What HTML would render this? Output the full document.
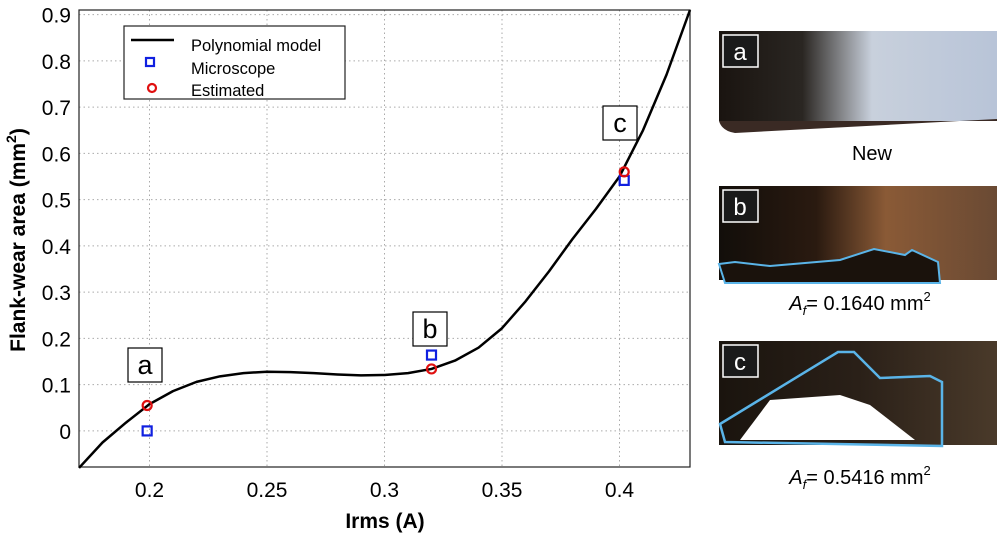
<!DOCTYPE html>
<html><head><meta charset="utf-8"><style>
body{margin:0;background:#fff;width:1000px;height:538px;overflow:hidden;font-family:"Liberation Sans",sans-serif}
</style></head><body>
<svg width="1000" height="538" viewBox="0 0 1000 538">
<defs>
<linearGradient id="ga" x1="0" x2="1" y1="0" y2="0"><stop offset="0" stop-color="#1a1410"/><stop offset="0.3" stop-color="#2a2622"/><stop offset="0.45" stop-color="#8a8c90"/><stop offset="0.55" stop-color="#c8d0dc"/><stop offset="1" stop-color="#b8c4d8"/></linearGradient>
<linearGradient id="gb" x1="0" x2="1" y1="0" y2="0"><stop offset="0" stop-color="#120e0a"/><stop offset="0.35" stop-color="#2a1a10"/><stop offset="0.6" stop-color="#8a5a36"/><stop offset="1" stop-color="#6a4a34"/></linearGradient>
<linearGradient id="gc" x1="0" x2="1" y1="0" y2="0"><stop offset="0" stop-color="#1a140e"/><stop offset="0.5" stop-color="#2a2018"/><stop offset="1" stop-color="#4a3a2a"/></linearGradient>
</defs>
<g id="chart"></g>
<g>
<rect x="719" y="31" width="278" height="90" fill="url(#ga)"/>
<path d="M719 121 Q722 131 735 133 L997 119 L997 121 Z" fill="#3a2a24"/>
<rect x="723" y="35" width="35" height="32" fill="#1a1a1a" stroke="#fff" stroke-width="1.5"/>
<text x="740" y="60" font-size="24" fill="#fff" text-anchor="middle">a</text>
<text x="872" y="160" font-size="20" text-anchor="middle">New</text>
</g>
<g>
<rect x="719" y="186" width="278" height="94" fill="url(#gb)"/>
<path d="M719 264 L735 262 L770 266 L840 260 L874 249 L905 255 L912 250 L938 262 L940 283 L725 283 Z" fill="#1a120c" stroke="#5ab4e8" stroke-width="2"/>
<rect x="723" y="190" width="35" height="32" fill="#1a1a1a" stroke="#fff" stroke-width="1.5"/>
<text x="740" y="215" font-size="24" fill="#fff" text-anchor="middle">b</text>
<text x="860" y="310" font-size="20" text-anchor="middle"><tspan font-style="italic">A</tspan><tspan font-style="italic" font-size="13" dy="5">f</tspan><tspan dy="-5">= 0.1640 mm</tspan><tspan font-size="13" dy="-9">2</tspan></text>
</g>
<g>
<rect x="719" y="341" width="278" height="104" fill="url(#gc)"/>
<path d="M740 440 L770 400 L840 395 L870 405 L915 440 Z" fill="#fff"/>
<path d="M720 424 L838 352 L854 352 L880 378 L930 376 L942 382 L942 446 L725 442 Z" fill="none" stroke="#5ab4e8" stroke-width="2.5"/>
<rect x="723" y="345" width="35" height="32" fill="#1a1a1a" stroke="#fff" stroke-width="1.5"/>
<text x="740" y="370" font-size="24" fill="#fff" text-anchor="middle">c</text>
<text x="860" y="484" font-size="20" text-anchor="middle"><tspan font-style="italic">A</tspan><tspan font-style="italic" font-size="13" dy="5">f</tspan><tspan dy="-5">= 0.5416 mm</tspan><tspan font-size="13" dy="-9">2</tspan></text>
</g>
</svg>
<script>
const xTicks=[0.2,0.25,0.3,0.35,0.4];
const xTickLabels=["0.2","0.25","0.3","0.35","0.4"];
const yTicks=[0,0.1,0.2,0.3,0.4,0.5,0.6,0.7,0.8,0.9];
const yTickLabels=["0","0.1","0.2","0.3","0.4","0.5","0.6","0.7","0.8","0.9"];
const curveX=[0.17,0.18,0.19,0.2,0.21,0.22,0.23,0.24,0.25,0.26,0.27,0.28,0.29,0.3,0.31,0.32,0.33,0.34,0.35,0.36,0.37,0.38,0.39,0.4,0.41,0.42,0.43];
const curveY=[-0.08,-0.025,0.018,0.058,0.086,0.106,0.118,0.125,0.128,0.127,0.125,0.122,0.12,0.121,0.125,0.134,0.152,0.18,0.222,0.28,0.345,0.415,0.48,0.55,0.65,0.77,0.91];
const pointLabels=["a","b","c"];
const microX=[0.199,0.32,0.402];
const microY=[0.0,0.164,0.5416];
const estX=[0.199,0.32,0.402];
const estY=[0.055,0.134,0.56];
const X0=79,X1=690,Y0=467,Y1=10,xmin=0.17,xmax=0.43,ymin=-0.078,ymax=0.91;
const sx=v=>X0+(v-xmin)/(xmax-xmin)*(X1-X0);
const sy=v=>Y0-(v-ymin)/(ymax-ymin)*(Y0-Y1);
const NS="http://www.w3.org/2000/svg";
const g=document.getElementById('chart');
function mk(t,a,p){const e=document.createElementNS(NS,t);for(const k in a)e.setAttribute(k,a[k]);(p||g).appendChild(e);return e;}
xTicks.forEach((v,i)=>{
 const l=mk('line',{x1:sx(v),x2:sx(v),y1:Y1,y2:Y0,stroke:'#aaa','stroke-dasharray':'1.5 3'});
 
 
 const t=mk('text',{x:sx(v),y:Y0+30,'font-size':21,'text-anchor':'middle'});t.textContent=xTickLabels[i];
 
 
});
yTicks.forEach((v,i)=>{
 const l=mk('line',{x1:X0,x2:X1,y1:sy(v),y2:sy(v),stroke:'#aaa','stroke-dasharray':'1.5 3'});
 
 
 const t=mk('text',{x:X0-8,y:sy(v)+8,'font-size':21,'text-anchor':'end'});t.textContent=yTickLabels[i];
 
 
});
const fr=mk('rect',{x:X0,y:Y1,width:X1-X0,height:Y0-Y1,fill:'none',stroke:'#222','stroke-width':1.2});


const cp=mk('polyline',{points:curveX.map((x,i)=>sx(x)+','+sy(curveY[i])).join(' '),fill:'none',stroke:'#000','stroke-width':2.5,'stroke-linejoin':'round'});


microX.forEach((x,i)=>{
 const r=mk('rect',{x:sx(x)-4.5,y:sy(microY[i])-4.5,width:9,height:9,fill:'none',stroke:'#1020e0','stroke-width':2.2});
 
 
});
estX.forEach((x,i)=>{
 const c=mk('circle',{cx:sx(x),cy:sy(estY[i]),r:4.5,fill:'none',stroke:'#e01010','stroke-width':2.2});
 
 
});
const lblPos=[[145,365],[430,329],[620,123]];
pointLabels.forEach((s,i)=>{
 const [cx,cy]=lblPos[i];
 const b=mk('rect',{x:cx-17,y:cy-17,width:34,height:34,fill:'#fff',stroke:'#000','stroke-width':1.2});
 
 
 const t=mk('text',{x:cx,y:cy+9,'font-size':27,'text-anchor':'middle'});t.textContent=s;
 
 
});
const lg=mk('g',{});


mk('rect',{x:124,y:26,width:221,height:73,fill:'#fff',stroke:'#222','stroke-width':1.2},lg);
mk('line',{x1:131,x2:174,y1:40,y2:40,stroke:'#000','stroke-width':2.5},lg);
mk('rect',{x:146,y:58,width:8,height:8,fill:'none',stroke:'#1020e0','stroke-width':2.2},lg);
mk('circle',{cx:152,cy:88,r:4,fill:'none',stroke:'#e01010','stroke-width':2.2},lg);
[["Polynomial model",51],["Microscope",74],["Estimated",96]].forEach(([s,y])=>{const t=mk('text',{x:191,y:y,'font-size':16.5},lg);t.textContent=s;});
const xt=mk('text',{x:385,y:528,'font-size':21,'font-weight':'bold','text-anchor':'middle'});xt.textContent='Irms (A)';


const yt=mk('text',{x:0,y:0,'font-size':21,'font-weight':'bold','text-anchor':'middle',transform:'translate(25,240) rotate(-90)'});
yt.innerHTML='Flank-wear area (mm<tspan font-size="14" dy="-9">2</tspan><tspan dy="9">)</tspan>';


</script>
</body></html>
